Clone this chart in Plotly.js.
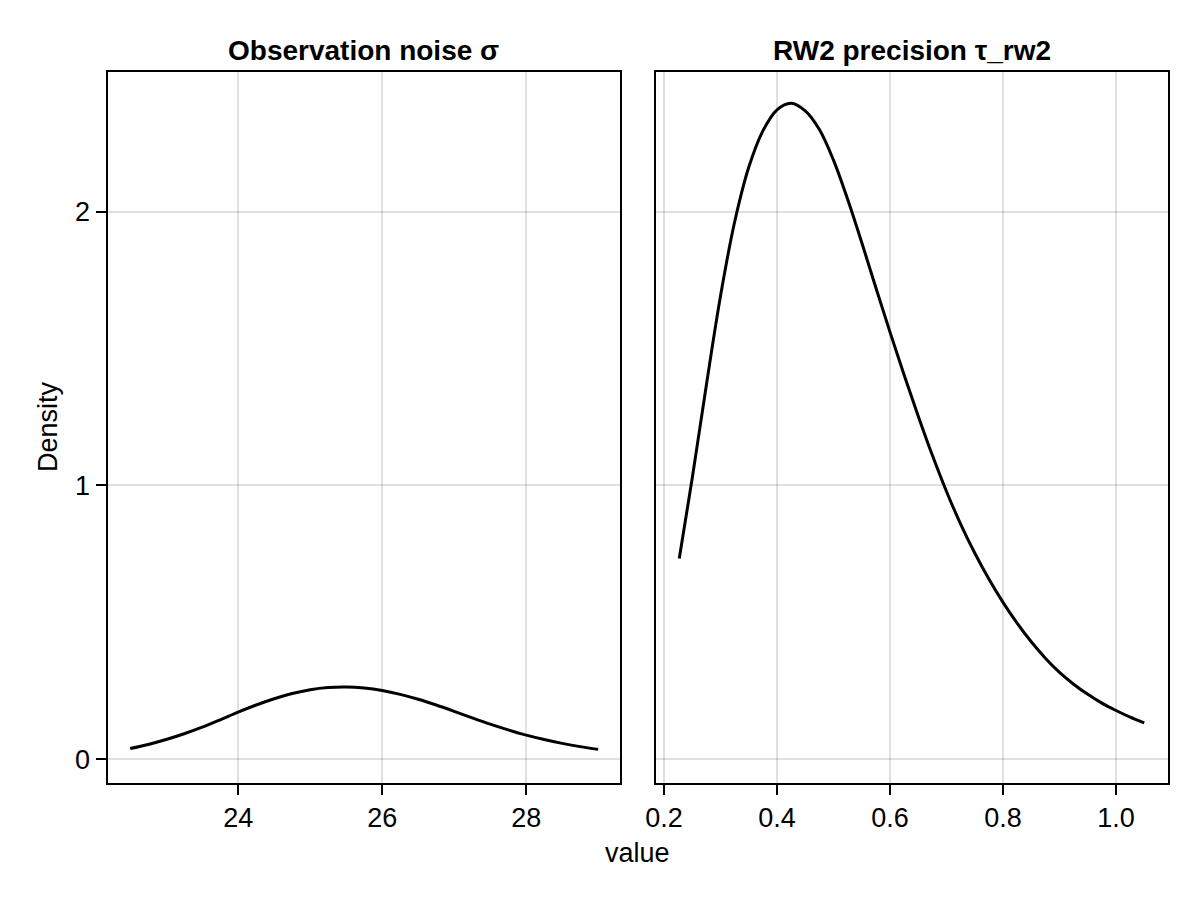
<!DOCTYPE html>
<html>
<head>
<meta charset="utf-8">
<script src="https://cdn.plot.ly/plotly-3.0.1.min.js"></script>
<style>
  html, body { margin: 0; padding: 0; background: #fff; }
  #chart { width: 1200px; height: 900px; }
</style>
</head>
<body>
<div id="chart"></div>
<script>
// densidad posterior de sigma (ruido de observacion)
const sigmaX = [22.5, 22.75, 23.0, 23.25, 23.5, 23.75, 24.0, 24.25, 24.5, 24.75,
                25.0, 25.25, 25.5, 25.75, 26.0, 26.25, 26.5, 26.75, 27.0, 27.25,
                27.5, 27.75, 28.0, 28.25, 28.5, 28.75, 29.0];
const sigmaDens = [0.039, 0.054, 0.072, 0.093, 0.117, 0.144, 0.172, 0.198, 0.221, 0.240,
                   0.254, 0.262, 0.264, 0.260, 0.251, 0.237, 0.219, 0.198, 0.175, 0.151,
                   0.128, 0.107, 0.088, 0.072, 0.058, 0.046, 0.036];

// densidad posterior de tau_rw2
const tauX = [0.227, 0.25, 0.275, 0.30, 0.325, 0.35, 0.375, 0.40, 0.425, 0.45,
              0.475, 0.50, 0.525, 0.55, 0.575, 0.60, 0.625, 0.65, 0.675, 0.70,
              0.725, 0.75, 0.775, 0.80, 0.825, 0.85, 0.875, 0.90, 0.925, 0.95,
              0.975, 1.00, 1.025, 1.05];
const tauDens = [0.733, 1.027, 1.367, 1.692, 1.962, 2.162, 2.295, 2.372, 2.396, 2.368,
                 2.300, 2.188, 2.045, 1.887, 1.722, 1.560, 1.403, 1.253, 1.110, 0.978,
                 0.859, 0.753, 0.658, 0.573, 0.497, 0.429, 0.369, 0.317, 0.274, 0.237,
                 0.205, 0.178, 0.154, 0.133];

const titulos = ['Observation noise σ', 'RW2 precision τ_rw2'];
const ticksSigma = [24, 26, 28];
const ticksTau = [0.2, 0.4, 0.6, 0.8, 1.0];
const ticksY = [0, 1, 2];

const fuente = 'Liberation Sans, Arial, sans-serif';
const tamFuente = 27;
const gris = 'rgba(0,0,0,0.12)';

const traces = [
    { x: sigmaX, y: sigmaDens, type: 'scatter', mode: 'lines', line: { color: '#000', width: 3, shape: 'spline' }, xaxis: 'x', yaxis: 'y' },
    { x: tauX, y: tauDens, type: 'scatter', mode: 'lines', line: { color: '#000', width: 3, shape: 'spline' }, xaxis: 'x2', yaxis: 'y2' }
];

// ejes comunes estilo Makie
const ejeBase = {
    showline: true, linecolor: '#000', linewidth: 2, mirror: true,
    showgrid: true, gridcolor: gris, gridwidth: 2,
    zeroline: false,
    ticks: 'outside', ticklen: 10, tickwidth: 2, tickcolor: '#000',
    tickfont: { family: fuente, size: tamFuente, color: '#000' }
};

const domX1 = [107.5 / 1200, 620 / 1200];
const domX2 = [655.7 / 1200, 1167.7 / 1200];
const domY = [(900 - 782.5) / 900, (900 - 72) / 900];

const layout = {
    width: 1200, height: 900,
    margin: { l: 0, r: 0, t: 0, b: 0 },
    paper_bgcolor: '#fff', plot_bgcolor: '#fff',
    showlegend: false,
    font: { family: fuente, size: tamFuente, color: '#000' },
    xaxis: { ...ejeBase, domain: domX1, range: [22.185, 29.303], tickvals: ticksSigma, anchor: 'y' },
    xaxis2: { ...ejeBase, domain: domX2, range: [0.1853, 1.0915], tickvals: ticksTau, tickformat: '.1f', anchor: 'y2' },
    yaxis: { ...ejeBase, domain: domY, range: [-0.085, 2.51], tickvals: ticksY, anchor: 'x' },
    yaxis2: { ...ejeBase, domain: domY, matches: 'y', range: [-0.085, 2.51], tickvals: ticksY, anchor: 'x2', showticklabels: false, ticks: '' },
    annotations: [
        { text: '<b>' + titulos[0] + '</b>', xref: 'paper', yref: 'paper', x: (domX1[0] + domX1[1]) / 2, y: 1 - 50 / 900, xanchor: 'center', yanchor: 'middle', showarrow: false, font: { family: fuente, size: 28 } },
        { text: '<b>' + titulos[1] + '</b>', xref: 'paper', yref: 'paper', x: (domX2[0] + domX2[1]) / 2, y: 1 - 50 / 900, xanchor: 'center', yanchor: 'middle', showarrow: false, font: { family: fuente, size: 28 } },
        { text: 'value', xref: 'paper', yref: 'paper', x: (domX1[0] + domX2[1]) / 2, y: 1 - 853 / 900, xanchor: 'center', yanchor: 'middle', showarrow: false, font: { family: fuente, size: tamFuente } },
        { text: 'Density', xref: 'paper', yref: 'paper', x: 48 / 1200, y: 1 - 427 / 900, xanchor: 'center', yanchor: 'middle', textangle: -90, showarrow: false, font: { family: fuente, size: tamFuente } }
    ]
};

Plotly.newPlot('chart', traces, layout, { staticPlot: true });
</script>
</body>
</html>
